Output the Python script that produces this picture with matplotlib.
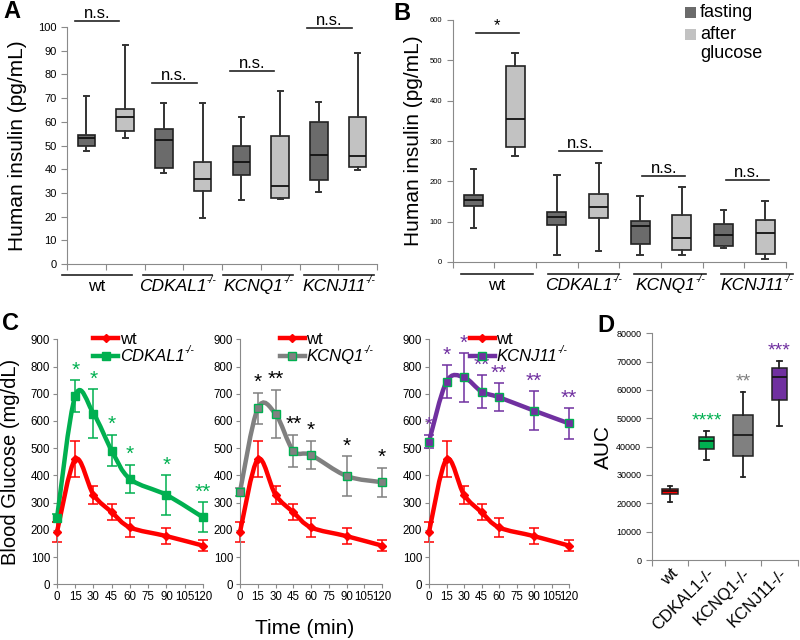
import numpy as np
import matplotlib
matplotlib.use("Agg")
import matplotlib.pyplot as plt
from matplotlib.path import Path
from matplotlib.patches import PathPatch, Rectangle
from matplotlib.lines import Line2D
import matplotlib.transforms as mtransforms

plt.rcParams['font.family'] = ['Liberation Sans', 'DejaVu Sans']
plt.rcParams['axes.edgecolor'] = '#8a8a8a'
plt.rcParams['xtick.color'] = '#8a8a8a'
plt.rcParams['ytick.color'] = '#8a8a8a'
plt.rcParams['xtick.labelcolor'] = 'black'
plt.rcParams['ytick.labelcolor'] = 'black'

# ---------------- data ----------------
groups = ['wt', 'CDKAL1', 'KCNQ1', 'KCNJ11']

# panel A: insulin (pg/mL), boxes: low whisker, q1, median, q3, high whisker
A_fast_lo = [47.5, 38.5, 27, 30.5]
A_fast_q1 = [50, 40.5, 37.5, 35.5]
A_fast_med = [53, 52.5, 43, 46]
A_fast_q3 = [54.5, 57, 50, 60]
A_fast_hi = [71, 68, 62, 68.5]
A_gluc_lo = [53, 19.5, 27.5, 39.5]
A_gluc_q1 = [56, 31, 28, 41]
A_gluc_med = [62, 36, 33, 45.5]
A_gluc_q3 = [65.5, 43, 54, 62]
A_gluc_hi = [92.5, 68, 73, 89]
A_sig = ['n.s.', 'n.s.', 'n.s.', 'n.s.']
A_sig_y = [102.5, 76.5, 81.3, 99.7]

# panel B
B_fast_lo = [84, 16.5, 16.5, 35]
B_fast_q1 = [138, 91, 44.6, 40]
B_fast_med = [153, 112, 89, 67]
B_fast_q3 = [167, 125, 101.5, 95]
B_fast_hi = [230, 215, 163, 130]
B_gluc_lo = [262, 28, 18, 7.5]
B_gluc_q1 = [286, 108, 30.5, 20]
B_gluc_med = [355, 137, 60, 72]
B_gluc_q3 = [486, 168, 116, 105]
B_gluc_hi = [519, 246, 186.5, 152]
B_sig = ['*', 'n.s.', 'n.s.', 'n.s.']
B_sig_y = [567, 274, 212, 203]

# panel C: blood glucose (mg/dL)
time = [0, 15, 30, 45, 60, 90, 120]
wt_mean = [192, 459, 329, 265, 209, 177, 142]
wt_err = [38, 66, 33, 29, 34, 30, 19]
cdkal1_mean = [244, 692, 627, 491, 387, 328, 246]
cdkal1_err = [15, 58, 89, 58, 52, 72, 55]
cdkal1_stars = ['', '*', '*', '*', '*', '*', '**']
kcnq1_mean = [340, 646, 626, 491, 475, 398, 375]
kcnq1_err = [15, 58, 89, 59, 52, 72, 54]
kcnq1_stars = ['', '*', '**', '**', '*', '*', '*']
kcnj11_mean = [524, 744, 760, 708, 687, 638, 591]
kcnj11_err = [24, 60, 89, 60, 51, 71, 56]
kcnj11_stars = ['*', '*', '*', '**', '**', '**', '**']

# panel D: AUC
D_labels = ['wt', 'CDKAL1-/-', 'KCNQ1-/-', 'KCNJ11-/-']
D_lo = [20350, 35300, 29300, 47300]
D_q1 = [23180, 39300, 36800, 56500]
D_med = [24240, 42100, 44100, 64500]
D_q3 = [25180, 43500, 51300, 67800]
D_hi = [26240, 45650, 59400, 70100]
D_stars = ['', '****', '**', '***']

RED = '#ff0000'
GREEN = '#00b050'
GRAY = '#808080'
PURPLE = '#7030a0'
FAST = '#6b6b6b'
GLUC = '#c2c2c2'


def stats(lo, q1, med, q3, hi):
    return [dict(whislo=a, q1=b, med=c, q3=d, whishi=e, fliers=[])
            for a, b, c, d, e in zip(lo, q1, med, q3, hi)]


def add_sup(ax, txt, fs):
    # small "-/-" superscript after an italic gene name
    ax.annotate('-/-', xy=(1.0, 0.95), xycoords=txt, ha='left', va='center',
                fontsize=fs, style='italic', annotation_clip=False, zorder=20)


def insulin_panel(ax, fast, gluc, sig, sig_y, ymax, ystep, tick_fs,
                  sig_off, line_off, line_len, line_y, lab_y):
    st = []
    for f, g in zip(fast, gluc):
        st += [f, g]
    bp = ax.bxp(st, positions=range(1, 9), widths=0.45, patch_artist=True,
                showfliers=False, capwidths=0.13,
                boxprops=dict(edgecolor='#222222', linewidth=1.2),
                medianprops=dict(color='#111111', linewidth=1.3),
                whiskerprops=dict(color='#333333', linewidth=1.4),
                capprops=dict(color='#333333', linewidth=1.4))
    for i, b in enumerate(bp['boxes']):
        b.set_facecolor(FAST if i % 2 == 0 else GLUC)
    ax.set_xlim(0.5, 8.5)
    ax.set_ylim(0, ymax)
    ax.set_yticks(np.arange(0, ymax + 1, ystep))
    ax.set_xticks(np.arange(0.5, 9, 1))
    ax.set_xticklabels([])
    ax.tick_params(axis='both', direction='out', length=4, labelsize=tick_fs)
    ax.spines[['top', 'right']].set_visible(False)
    trans = mtransforms.blended_transform_factory(ax.transData, ax.transAxes)
    for i, (s, y) in enumerate(zip(sig, sig_y)):
        x0 = 2 * i + 1 + sig_off[0]
        x1 = 2 * i + 1 + sig_off[1]
        ax.plot([x0, x1], [y, y], color='#222222', lw=1.2, clip_on=False)
        ax.text((x0 + x1) / 2, y, s, ha='center', va='bottom', fontsize=12)
    for i, g in enumerate(groups):
        x0 = 2 * i + line_off + 0.08 * i
        ax.plot([x0, x0 + line_len], [line_y, line_y], color='#222222', lw=1.2,
                transform=trans, clip_on=False)
        if g == 'wt':
            ax.text(x0 + line_len / 2, lab_y, g, transform=trans, ha='center',
                    va='center', fontsize=12.5)
        else:
            t = ax.text(x0 + line_len / 2 - 0.12, lab_y, g, transform=trans,
                        ha='center', va='center', fontsize=12.5, style='italic')
            add_sup(ax, t, 7.5)


fig = plt.figure(figsize=(8, 6.4), dpi=100)

# ---------------- A ----------------
axA = fig.add_axes([67 / 800, 1 - 264 / 640, 310 / 800, 237 / 640])
insulin_panel(axA, stats(A_fast_lo, A_fast_q1, A_fast_med, A_fast_q3, A_fast_hi),
              stats(A_gluc_lo, A_gluc_q1, A_gluc_med, A_gluc_q3, A_gluc_hi),
              A_sig, A_sig_y, 100, 10, 8, (-0.3, 0.85), 0.37, 1.8, -0.047, -0.095)
axA.set_ylabel('Human insulin (pg/mL)', fontsize=15)
axA.yaxis.set_label_coords(-0.128, 0.5)

# ---------------- B ----------------
axB = fig.add_axes([452.7 / 800, 1 - 262 / 640, 333.3 / 800, 242 / 640])
insulin_panel(axB, stats(B_fast_lo, B_fast_q1, B_fast_med, B_fast_q3, B_fast_hi),
              stats(B_gluc_lo, B_gluc_q1, B_gluc_med, B_gluc_q3, B_gluc_hi),
              B_sig, B_sig_y, 600, 100, 5.5, (0.05, 1.08), 0.7, 1.72, -0.05, -0.098)
axB.set_ylabel('Human insulin (pg/mL)', fontsize=15)
axB.yaxis.set_label_coords(-0.088, 0.5)

# legend for B
for y, c in [(12.5, FAST), (34.5, GLUC)]:
    fig.patches.append(Rectangle((685 / 800, 1 - (y + 5.5) / 640), 11 / 800, 11 / 640,
                                 transform=fig.transFigure, facecolor=c, edgecolor='none'))
fig.text(700 / 800, 1 - 12.5 / 640, 'fasting', fontsize=13, va='center')
fig.text(700 / 800, 1 - 34.5 / 640, 'after', fontsize=13, va='center')
fig.text(700 / 800, 1 - 53 / 640, 'glucose', fontsize=13, va='center')


# ---------------- C ----------------
def smooth_path(x, y):
    pts = np.column_stack([x, y]).astype(float)
    n = len(pts)
    verts = [pts[0]]
    codes = [Path.MOVETO]
    for i in range(n - 1):
        p0 = pts[i - 1] if i > 0 else pts[i]
        p1 = pts[i]
        p2 = pts[i + 1]
        p3 = pts[i + 2] if i + 2 < n else pts[i + 1]
        verts += [p1 + (p2 - p0) / 6, p2 - (p3 - p1) / 6, p2]
        codes += [Path.CURVE4] * 3
    return Path(verts, codes)


def glucose_series(ax, mean, err, color, marker, mec, ms):
    ax.add_patch(PathPatch(smooth_path(time, mean), fill=False, edgecolor=color,
                           lw=3.2, capstyle='round', zorder=3, clip_on=False))
    ax.errorbar(time, mean, yerr=err, fmt='none', ecolor=color, elinewidth=1.1,
                capsize=3.5, capthick=1.1, zorder=2, clip_on=False)
    ax.plot(time, mean, ls='none', marker=marker, ms=ms, mfc=color, mec=mec,
            mew=1, zorder=4, clip_on=False)


c_axes = []
c_specs = [
    (57, 146, cdkal1_mean, cdkal1_err, cdkal1_stars, GREEN, GREEN, GREEN, 'CDKAL1', 0.25),
    (240, 142, kcnq1_mean, kcnq1_err, kcnq1_stars, GRAY, GREEN, 'black', 'KCNQ1', 0.28),
    (429, 140, kcnj11_mean, kcnj11_err, kcnj11_stars, PURPLE, GREEN, PURPLE, 'KCNJ11', 0.29),
]
for left, width, mean, err, stars, col, mec, scol, name, legx in c_specs:
    ax = fig.add_axes([left / 800, 1 - 584.3 / 640, width / 800, 245 / 640])
    c_axes.append(ax)
    glucose_series(ax, mean, err, col, 's', mec, 6)
    glucose_series(ax, wt_mean, wt_err, RED, 'D', RED, 4.5)
    for t, m, e, s in zip(time, mean, err, stars):
        if s:
            ax.text(t, m + e + 2, s, ha='center', va='bottom', color=scol,
                    fontsize=15, zorder=5)
    ax.set_xlim(0, 120)
    ax.set_ylim(0, 900)
    ax.set_xticks(time[:1] + list(range(15, 121, 15)))
    ax.set_yticks(range(0, 901, 100))
    ax.tick_params(direction='out', length=3, labelsize=8.3, pad=2)
    ax.spines[['top', 'right']].set_visible(False)
    handles = [Line2D([], [], color=RED, lw=3.2, marker='D', ms=4.5, mfc=RED, mec=RED),
               Line2D([], [], color=col, lw=3.2, marker='s', ms=6, mfc=col, mec=mec)]
    leg = ax.legend(handles, ['wt', name], loc='upper left',
                    bbox_to_anchor=(legx, 1.03), frameon=False, fontsize=12,
                    handlelength=1.5, handletextpad=0.1, labelspacing=0.15,
                    borderpad=0, borderaxespad=0)
    lt = leg.get_texts()[1]
    lt.set_style('italic')
    add_sup(ax, lt, 7.5)

c_axes[0].set_ylabel('Blood Glucose (mg/dL)', fontsize=14.5)
c_axes[0].yaxis.set_label_coords(-0.255, 0.5)
fig.text(305 / 800, 1 - 628 / 640, 'Time (min)', fontsize=15, ha='center', va='center')

# ---------------- D ----------------
axD = fig.add_axes([651.7 / 800, 1 - 560 / 640, 146 / 800, 226.7 / 640])
D_colors = [RED, GREEN, GRAY, PURPLE]
D_widths = [0.43, 0.42, 0.55, 0.43]
bp = axD.bxp(stats(D_lo, D_q1, D_med, D_q3, D_hi), positions=range(1, 5),
             widths=D_widths, patch_artist=True, showfliers=False, capwidths=0.12,
             boxprops=dict(edgecolor='#222222', linewidth=1.1),
             medianprops=dict(color='#111111', linewidth=1.2),
             whiskerprops=dict(color='#222222', linewidth=1.3),
             capprops=dict(color='#222222', linewidth=1.3))
for b, c in zip(bp['boxes'], D_colors):
    b.set_facecolor(c)
for i, (s, hi, c) in enumerate(zip(D_stars, D_hi, D_colors)):
    if s:
        axD.text(i + 1, hi + 500, s, ha='center', va='bottom', color=c, fontsize=14)
axD.set_xlim(0.5, 4.5)
axD.set_ylim(0, 80000)
axD.set_yticks(range(0, 80001, 10000))
axD.set_xticks(np.arange(0.5, 5, 1))
axD.set_xticklabels([])
axD.set_xticks(range(1, 5), minor=True)
axD.set_xticklabels(D_labels, minor=True, rotation=45, ha='right',
                    rotation_mode='anchor', fontsize=12)
axD.tick_params(axis='x', which='minor', length=0, pad=4)
axD.tick_params(axis='both', which='major', direction='out', length=4, labelsize=6.5)
axD.spines[['top', 'right']].set_visible(False)
axD.set_ylabel('AUC', fontsize=15)
axD.yaxis.set_label_coords(-0.265, 0.5)

# panel letters
for x, y, s in [(3, 12, 'A'), (393, 14, 'B'), (2, 323, 'C'), (597, 326, 'D')]:
    fig.text(x / 800, 1 - y / 640, s, fontsize=17, fontweight='bold', va='center')

fig.savefig('out.png', dpi=100)
